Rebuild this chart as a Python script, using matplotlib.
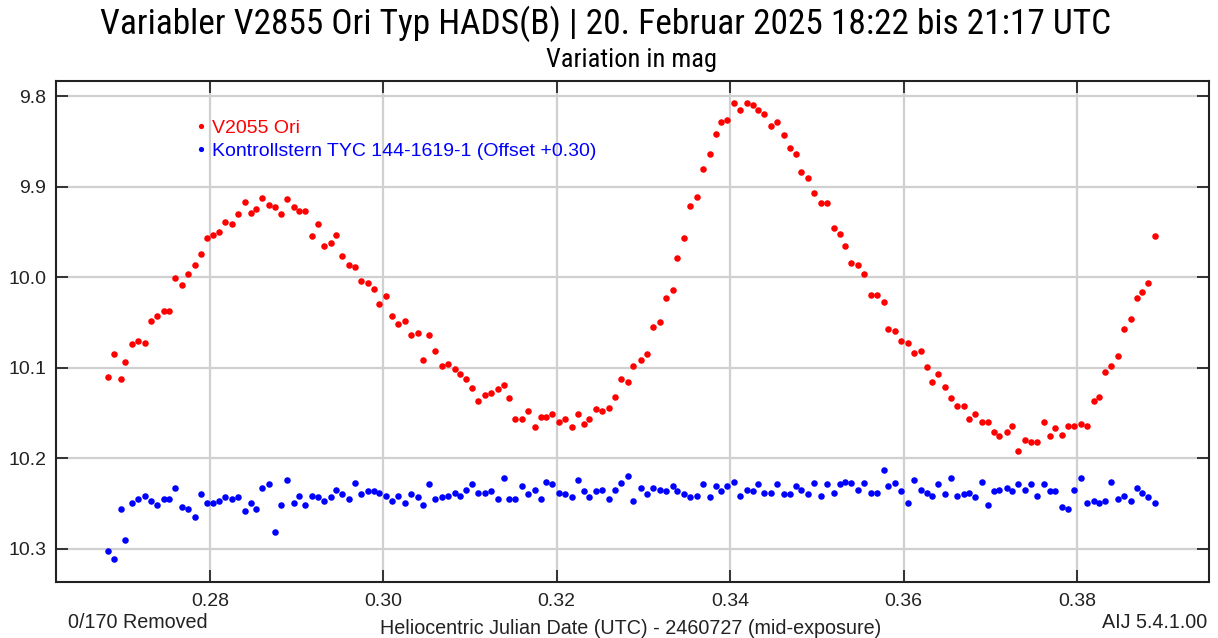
#!/usr/bin/env python3
"""
Light curve of V2855 Ori (HADS) with comparison/check star, AIJ style.
Writes: out.png
"""

import matplotlib.pyplot as plt

# time (HJD - 2460727)
hjd = [
    0.26823, 0.26900, 0.26973, 0.27027, 0.27104, 0.27177, 0.27250, 0.27323, 0.27396, 0.27473,
    0.27531, 0.27600, 0.27677, 0.27750, 0.27827, 0.27900, 0.27973, 0.28031, 0.28104, 0.28177,
    0.28250, 0.28327, 0.28400, 0.28473, 0.28531, 0.28604, 0.28677, 0.28750, 0.28815, 0.28892,
    0.28969, 0.29027, 0.29100, 0.29173, 0.29246, 0.29319, 0.29396, 0.29450, 0.29527, 0.29600,
    0.29673, 0.29746, 0.29823, 0.29896, 0.29954, 0.30027, 0.30100, 0.30173, 0.30246, 0.30319,
    0.30396, 0.30454, 0.30527, 0.30600, 0.30673, 0.30746, 0.30823, 0.30889, 0.30950, 0.31023,
    0.31096, 0.31169, 0.31246, 0.31319, 0.31392, 0.31450, 0.31523, 0.31596, 0.31673, 0.31746,
    0.31819, 0.31877, 0.31950, 0.32027, 0.32100, 0.32173, 0.32246, 0.32319, 0.32377, 0.32450,
    0.32523, 0.32600, 0.32673, 0.32746, 0.32819, 0.32877, 0.32969, 0.33042, 0.33115, 0.33188,
    0.33262, 0.33338, 0.33392, 0.33465, 0.33542, 0.33615, 0.33688, 0.33765, 0.33838, 0.33892,
    0.33969, 0.34042, 0.34119, 0.34192, 0.34265, 0.34319, 0.34396, 0.34469, 0.34542, 0.34619,
    0.34692, 0.34765, 0.34819, 0.34896, 0.34969, 0.35042, 0.35119, 0.35192, 0.35265, 0.35323,
    0.35396, 0.35469, 0.35546, 0.35619, 0.35692, 0.35769, 0.35823, 0.35896, 0.35969, 0.36046,
    0.36119, 0.36196, 0.36269, 0.36323, 0.36400, 0.36473, 0.36546, 0.36619, 0.36696, 0.36750,
    0.36827, 0.36900, 0.36973, 0.37046, 0.37104, 0.37192, 0.37246, 0.37323, 0.37396, 0.37469,
    0.37542, 0.37619, 0.37692, 0.37750, 0.37823, 0.37896, 0.37969, 0.38046, 0.38119, 0.38192,
    0.38250, 0.38323, 0.38396, 0.38473, 0.38546, 0.38619, 0.38692, 0.38750, 0.38823, 0.38900,
]

# variable star magnitude
mag_var = [
    10.110, 10.085, 10.112, 10.094, 10.074, 10.070, 10.073, 10.048, 10.043, 10.037,
    10.037, 10.001, 10.009, 9.996, 9.987, 9.975, 9.957, 9.954, 9.950, 9.939,
    9.941, 9.930, 9.917, 9.929, 9.925, 9.913, 9.920, 9.923, 9.930, 9.914,
    9.923, 9.927, 9.927, 9.955, 9.941, 9.966, 9.962, 9.954, 9.977, 9.987,
    9.989, 10.004, 10.007, 10.013, 10.030, 10.021, 10.043, 10.052, 10.048, 10.064,
    10.062, 10.091, 10.064, 10.082, 10.098, 10.096, 10.101, 10.107, 10.112, 10.123,
    10.137, 10.130, 10.128, 10.124, 10.119, 10.133, 10.157, 10.157, 10.148, 10.165,
    10.155, 10.155, 10.151, 10.160, 10.157, 10.165, 10.151, 10.162, 10.157, 10.146,
    10.148, 10.144, 10.132, 10.112, 10.116, 10.098, 10.091, 10.085, 10.055, 10.050,
    10.023, 10.014, 9.979, 9.957, 9.922, 9.911, 9.881, 9.864, 9.842, 9.829,
    9.827, 9.808, 9.815, 9.808, 9.810, 9.815, 9.820, 9.833, 9.829, 9.843,
    9.857, 9.864, 9.884, 9.891, 9.907, 9.918, 9.918, 9.946, 9.952, 9.966,
    9.984, 9.987, 9.996, 10.020, 10.020, 10.028, 10.057, 10.059, 10.071, 10.073,
    10.084, 10.082, 10.099, 10.116, 10.107, 10.121, 10.133, 10.142, 10.142, 10.157,
    10.151, 10.160, 10.160, 10.171, 10.176, 10.171, 10.164, 10.192, 10.180, 10.182,
    10.182, 10.160, 10.176, 10.167, 10.174, 10.164, 10.164, 10.162, 10.164, 10.137,
    10.132, 10.105, 10.098, 10.087, 10.057, 10.046, 10.023, 10.016, 10.006, 9.955,
]

# check star magnitude (already offset +0.30)
mag_chk = [
    10.302, 10.311, 10.256, 10.290, 10.250, 10.245, 10.242, 10.247, 10.252, 10.245,
    10.245, 10.233, 10.254, 10.256, 10.265, 10.240, 10.249, 10.249, 10.247, 10.243,
    10.245, 10.243, 10.258, 10.250, 10.256, 10.233, 10.229, 10.281, 10.252, 10.224,
    10.250, 10.242, 10.252, 10.242, 10.243, 10.247, 10.243, 10.235, 10.240, 10.245,
    10.227, 10.240, 10.236, 10.236, 10.238, 10.242, 10.247, 10.242, 10.250, 10.240,
    10.243, 10.252, 10.229, 10.245, 10.243, 10.242, 10.238, 10.242, 10.235, 10.229,
    10.238, 10.238, 10.236, 10.245, 10.222, 10.245, 10.245, 10.231, 10.240, 10.235,
    10.245, 10.226, 10.229, 10.238, 10.240, 10.243, 10.224, 10.236, 10.243, 10.236,
    10.235, 10.245, 10.235, 10.227, 10.220, 10.247, 10.233, 10.240, 10.233, 10.235,
    10.236, 10.231, 10.236, 10.240, 10.243, 10.242, 10.229, 10.243, 10.231, 10.236,
    10.231, 10.226, 10.242, 10.235, 10.236, 10.229, 10.238, 10.238, 10.229, 10.240,
    10.240, 10.231, 10.235, 10.240, 10.227, 10.242, 10.229, 10.238, 10.229, 10.226,
    10.227, 10.235, 10.227, 10.238, 10.238, 10.213, 10.231, 10.227, 10.236, 10.250,
    10.224, 10.235, 10.238, 10.242, 10.229, 10.240, 10.222, 10.242, 10.240, 10.238,
    10.243, 10.226, 10.252, 10.236, 10.235, 10.233, 10.236, 10.229, 10.235, 10.229,
    10.242, 10.229, 10.236, 10.236, 10.254, 10.256, 10.235, 10.222, 10.249, 10.247,
    10.249, 10.247, 10.226, 10.245, 10.242, 10.247, 10.233, 10.238, 10.243, 10.249,
]

labels = ["V2055 Ori", "Kontrollstern TYC 144-1619-1 (Offset +0.30)"]
xticks = [0.28, 0.30, 0.32, 0.34, 0.36, 0.38]
yticks = [9.8, 9.9, 10.0, 10.1, 10.2, 10.3]

NARROW = ["Liberation Sans Narrow", "Roboto Condensed", "DejaVu Sans"]
plt.rcParams["font.family"] = ["Liberation Sans", "DejaVu Sans"]

W, H = 1218, 638
fig = plt.figure(figsize=(W / 100, H / 100), dpi=100)
ax = fig.add_axes([56 / W, (H - 582) / H, 1153 / W, 501 / H])

ax.plot(hjd, mag_var, "o", color="red", ms=4.7, mew=0, label=labels[0])
ax.plot(hjd, mag_chk, "o", color="blue", ms=4.7, mew=0, label=labels[1])

ax.set_xlim(0.26226, 0.39522)
ax.set_ylim(10.3367, 9.7834)
ax.set_xticks(xticks)
ax.set_xticklabels([f"{t:.2f}" for t in xticks], fontsize=14, color="#222222")
ax.set_yticks(yticks)
ax.set_yticklabels([f"{t:.1f}" for t in yticks], fontsize=14, color="#222222")
ax.tick_params(direction="in", length=8.5, width=1.4, top=True, right=True,
               color="#333333")
ax.tick_params(axis="y", pad=7)
ax.tick_params(axis="x", pad=8)
ax.grid(True, color="#d0d0d0", lw=1.6)
ax.set_axisbelow(True)
for s in ax.spines.values():
    s.set_linewidth(1.5)
    s.set_color("#222222")

leg = ax.legend(loc="upper left", bbox_to_anchor=(0.1222, 0.923), frameon=False,
                handlelength=0.4, handletextpad=0.37, labelspacing=0.25,
                borderpad=0, borderaxespad=0, markerscale=0.8,
                labelcolor="markerfacecolor", prop={"size": 14})

fig.text(0.497, 1 - 24 / H, "Variabler V2855 Ori Typ HADS(B) | 20. Februar 2025 18:22 bis 21:17 UTC",
         ha="center", va="center", fontsize=25.5, family=NARROW, stretch="condensed")
fig.text(631 / W, 1 - 60 / H, "Variation in mag", ha="center", va="center",
         fontsize=19, family=NARROW, stretch="condensed")
fig.text(631 / W, 1 - 628 / H, "Heliocentric Julian Date (UTC) - 2460727 (mid-exposure)",
         ha="center", va="center", fontsize=14.2, color="#222222")
fig.text(68 / W, 1 - 623 / H, "0/170 Removed", ha="left", va="center",
         fontsize=14.2, color="#222222")
fig.text(1207 / W, 1 - 623 / H, "AIJ 5.4.1.00", ha="right", va="center",
         fontsize=14.2, color="#222222")

fig.savefig("out.png", dpi=100)
